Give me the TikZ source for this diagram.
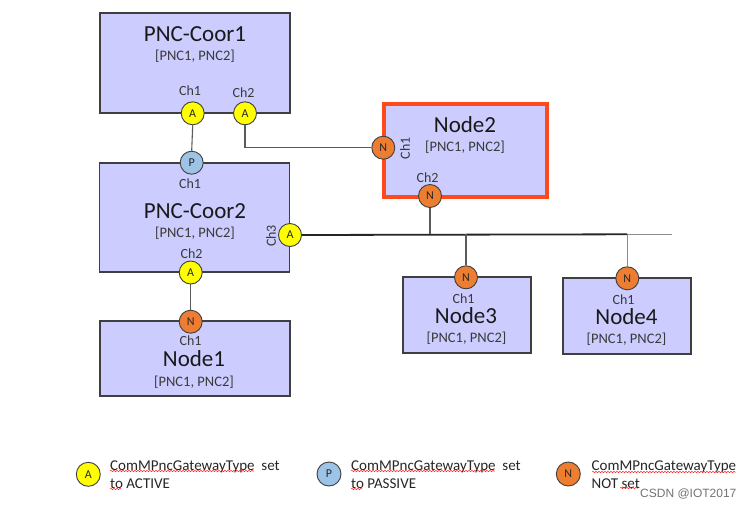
\documentclass[tikz,border=0pt]{standalone}
\usepackage{fontspec}
\setmainfont{Carlito}
\newfontfamily\wmfont{Liberation Sans}
\usetikzlibrary{decorations.pathmorphing}
\definecolor{boxfill}{HTML}{CCCCFF}
\definecolor{boxline}{HTML}{3F3F3F}
\definecolor{actyel}{HTML}{FFFF00}
\definecolor{pasblue}{HTML}{9DC3E6}
\definecolor{notorg}{HTML}{ED7D31}
\definecolor{hilite}{HTML}{FF4A1C}
\definecolor{wire}{HTML}{5A5A5A}
\definecolor{lbl}{HTML}{3A3A3A}
\tikzset{
  unitbox/.style={draw=boxline, fill=boxfill, line width=1.1pt, inner sep=0pt},
  port/.style={circle, draw=boxline, line width=0.9pt, minimum size=23pt, inner sep=0pt, font=\fontsize{12}{12}\selectfont, text=black!85},
  portA/.style={port, fill=actyel},
  portP/.style={port, fill=pasblue},
  portN/.style={port, fill=notorg},
  ttl/.style={font=\fontsize{23}{23}\selectfont, text=black!90, inner sep=0pt},
  sub/.style={font=\fontsize{14.5}{14.5}\selectfont, text=lbl, inner sep=0pt},
  chl/.style={font=\fontsize{14}{14}\selectfont, text=lbl, inner sep=0pt},
  wireline/.style={draw=wire, line width=1.1pt},
  legtxt/.style={font=\fontsize{15}{17.6}\selectfont, text=black!85, align=left, anchor=west, inner sep=0pt},
  squig/.style={draw=red!85, line width=0.5pt, decorate, decoration={snake, amplitude=0.7pt, segment length=3pt}}
}
\begin{document}
\begin{tikzpicture}[x=1pt,y=-1pt]
\useasboundingbox (0,0) rectangle (753,509);
\fill[white] (0,0) rectangle (753,509);

% boxes
\node[unitbox, minimum width=190pt, minimum height=100pt] (coor1) at (195,63) {};
\node[unitbox, draw=hilite, line width=4pt, minimum width=163pt, minimum height=93pt] (node2) at (465.5,150.3) {};
\node[unitbox, minimum width=190pt, minimum height=109pt] (coor2) at (194.5,217.5) {};
\node[unitbox, minimum width=190pt, minimum height=75pt] (node1) at (195,358.5) {};
\node[unitbox, minimum width=128pt, minimum height=76pt] (node3) at (467,315) {};
\node[unitbox, minimum width=128pt, minimum height=76pt] (node4) at (627,316) {};

% titles
\node[ttl] (t1) at (195,34) {PNC-Coor1};
\node[sub] (s1) at (195,56.5) {[PNC1, PNC2]};
\node[ttl] (t2) at (195,211) {PNC-Coor2};
\node[sub] (s2) at (195,233) {[PNC1, PNC2]};
\node[ttl] (tn2) at (465,125) {Node2};
\node[sub] (sn2) at (465,147.5) {[PNC1, PNC2]};
\node[ttl] (tn1) at (194,359) {Node1};
\node[sub] (sn1) at (194,382.5) {[PNC1, PNC2]};
\node[ttl] (tn3) at (466,316) {Node3};
\node[sub] (sn3) at (466.5,338.5) {[PNC1, PNC2]};
\node[ttl] (tn4) at (626.5,317) {Node4};
\node[sub] (sn4) at (626.5,339.5) {[PNC1, PNC2]};

% channel labels
\node[chl] (l1) at (190,91) {Ch1};
\node[chl] (l2) at (243.5,92.5) {Ch2};
\node[chl] (l3) at (190,183.5) {Ch1};
\node[chl, rotate=90] (l4) at (271,236) {Ch3};
\node[chl] (l5) at (191.5,254) {Ch2};
\node[chl] (l6) at (190.5,341) {Ch1};
\node[chl, rotate=90] (l7) at (405,148.3) {Ch1};
\node[chl] (l8) at (427.5,177.5) {Ch2};
\node[chl] (l9) at (463.5,299) {Ch1};
\node[chl] (l10) at (623.5,299.5) {Ch1};

% ports
\node[portA] (c1a1) at (192.7,113.3) {A};
\node[portA] (c1a2) at (245,113.3) {A};
\node[portP] (c2p1) at (191.7,162.7) {P};
\node[portA] (c2a3) at (290,235) {A};
\node[portA] (c2a2) at (190.7,272.5) {A};
\node[portN] (n1n) at (190.7,321.7) {N};
\node[portN] (n2n1) at (383.3,147.7) {N};
\node[portN] (n2n2) at (430,196) {N};
\node[portN] (n3n) at (466,277.3) {N};
\node[portN] (n4n) at (627.3,278.3) {N};

% connectors
\coordinate (busR) at (627.3,234.3);
\coordinate (busE) at (672,234.3);
\draw[wireline] (c1a1.south) -- (c2p1.north);
\draw[wireline] (c1a2.south) |- (n2n1.west);
\draw[wireline] (c2a2.south) -- (n1n.north);
\draw[draw=black!85, line width=1.8pt] (c2a3.east) -- (busR);
\draw[draw=black!45, line width=1.3pt] (busR) -- (busE);
\draw[wireline] (n2n2.south) -- (n2n2.south |- busR);
\draw[wireline] (n3n.north) -- (n3n.north |- busR);
\draw[draw=black!45, line width=1.5pt] (n4n.north) -- (n4n.north |- busR);

% legend
\node[portA, minimum size=24pt] (legA) at (88.3,474.3) {A};
\node[portP, minimum size=24pt] (legP) at (329,474) {P};
\node[portN, minimum size=24pt] (legN) at (568.3,474) {N};
\node[legtxt] (txA) at (110,474.5) {ComMPncGatewayType~ set\\to ACTIVE};
\node[legtxt] (txP) at (351,474.5) {ComMPncGatewayType~ set\\to PASSIVE};
\node[legtxt] (txN) at (591.5,474.5) {ComMPncGatewayType\\NOT set};
\draw[squig] (110,471) -- (254,471);
\draw[squig] (110,489) -- (121,489);
\draw[squig] (351,471) -- (495,471);
\draw[squig] (351,489) -- (362,489);
\draw[squig] (592,472) -- (736,472);
\draw[squig] (620,488) -- (638,488);

\node[font=\wmfont\fontsize{12}{12}\selectfont, text=black!55, inner sep=0pt, anchor=west] (wm) at (640,493.5) {CSDN @IOT2017};
\end{tikzpicture}
\end{document}
